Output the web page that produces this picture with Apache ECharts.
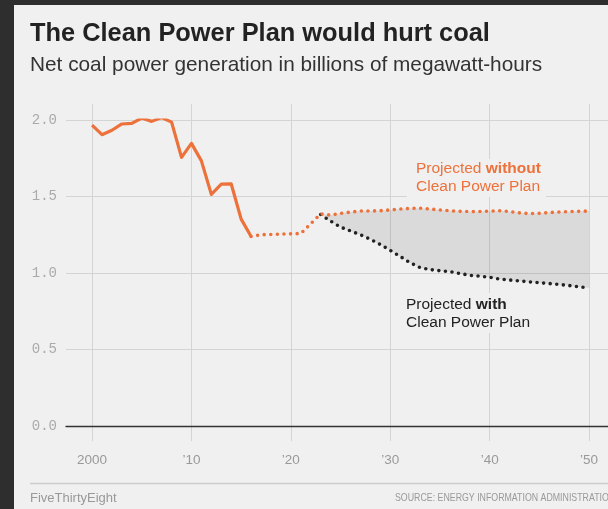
<!DOCTYPE html>
<html>
<head>
<meta charset="utf-8">
<script src="https://cdn.jsdelivr.net/npm/echarts@6/dist/echarts.min.js"></script>
<style>
html,body{margin:0;padding:0;background:#2e2e2e;}
#chart{width:608px;height:509px;}
</style>
</head>
<body>
<div id="chart"></div>
<script>
const histYears = [2000,2001,2002,2003,2004,2005,2006,2007,2008,2009,2010,2011,2012,2013,2014,2015,2016];
const histValues = [1.966,1.904,1.933,1.974,1.978,2.013,1.991,2.016,1.986,1.756,1.847,1.733,1.514,1.581,1.582,1.352,1.239];

const withoutYears = [2016,2017,2018,2019,2020,2021,2022,2023,2024,2025,2026,2027,2028,2029,2030,2031,2032,2033,2034,2035,2036,2037,2038,2039,2040,2041,2042,2043,2044,2045,2046,2047,2048,2049,2050];
const withoutValues = [1.239,1.250,1.252,1.254,1.256,1.258,1.322,1.386,1.378,1.390,1.398,1.405,1.405,1.407,1.412,1.418,1.422,1.423,1.418,1.412,1.407,1.403,1.401,1.402,1.404,1.407,1.402,1.393,1.388,1.390,1.395,1.399,1.401,1.403,1.405];

const withYears = [2023,2024,2025,2026,2027,2028,2029,2030,2031,2032,2033,2034,2035,2036,2037,2038,2039,2040,2041,2042,2043,2044,2045,2046,2047,2048,2049,2050];
const withValues = [1.382,1.339,1.300,1.275,1.250,1.220,1.186,1.148,1.108,1.067,1.035,1.022,1.015,1.009,0.997,0.985,0.979,0.972,0.960,0.954,0.948,0.942,0.936,0.931,0.925,0.918,0.910,0.902];

const xTicks = [2000,2010,2020,2030,2040,2050];
const xTickLabels = ['2000','\u201910','\u201920','\u201930','\u201940','\u201950'];

const ORANGE = '#ed713a';
const DARK = '#222222';
const X_MIN = 1997.38, X_MAX = 2051.9;

const pairs = (xs, ys) => xs.map((x, i) => [x, ys[i]]);
const withoutTail = withYears.map(y => withoutValues[withoutYears.indexOf(y)]);

const chart = echarts.init(document.getElementById('chart'));
chart.setOption({
  backgroundColor: '#2e2e2e',
  animation: false,
  grid: [
    {left: 66, right: 0, top: 120, bottom: 83},
    {left: 66, right: 0, top: 104, bottom: 68}
  ],
  xAxis: [
    {type: 'value', gridIndex: 0, min: X_MIN, max: X_MAX,
     axisLine: {show: true, onZero: false, lineStyle: {color: '#333', width: 1.3}},
     axisTick: {show: false}, axisLabel: {show: false}, splitLine: {show: false}},
    {type: 'value', gridIndex: 1, min: X_MIN, max: X_MAX,
     axisLine: {show: false},
     axisTick: {show: false, customValues: xTicks},
     axisLabel: {show: true, customValues: xTicks, margin: 12,
       formatter: v => xTickLabels[xTicks.indexOf(Math.round(v))] || '',
       color: '#999', fontSize: 13.5, fontFamily: "'Liberation Sans', Arial, sans-serif"},
     splitLine: {show: true, lineStyle: {color: '#d4d4d4', width: 1}}}
  ],
  yAxis: [
    {type: 'value', gridIndex: 0, min: 0, max: 2, interval: 0.5,
     axisLine: {show: false}, axisTick: {show: false},
     axisLabel: {formatter: v => v.toFixed(1), color: '#aaa', fontSize: 14, margin: 9,
       fontFamily: "'Liberation Mono', 'DejaVu Sans Mono', monospace"},
     splitLine: {show: true, lineStyle: {color: '#d4d4d4', width: 1}}},
    {type: 'value', gridIndex: 1, min: 0, max: 1, show: false, splitLine: {show: false}}
  ],
  series: [
    {type: 'custom', name: 'band', xAxisIndex: 0, yAxisIndex: 0, silent: true, z: 1, clip: false,
     data: [[withYears[0], withValues[0]]],
     renderItem: (params, api) => {
       const top = withYears.map((y, i) => api.coord([y, withoutTail[i]]));
       const bottom = withYears.map((y, i) => api.coord([y, withValues[i]])).reverse();
       return {type: 'polygon', shape: {points: top.concat(bottom)}, style: {fill: 'rgba(0,0,0,0.09)'}};
     }},
    {type: 'line', name: 'withCPP', xAxisIndex: 0, yAxisIndex: 0,
     data: pairs(withYears, withValues), symbol: 'none',
     lineStyle: {color: DARK, width: 3.6, type: [0, 6.6], cap: 'round'}, z: 3},
    {type: 'line', name: 'withoutCPP', xAxisIndex: 0, yAxisIndex: 0,
     data: pairs(withoutYears, withoutValues), symbol: 'none',
     lineStyle: {color: ORANGE, width: 3.6, type: [0, 6.6], cap: 'round'}, z: 4},
    {type: 'line', name: 'historical', xAxisIndex: 0, yAxisIndex: 0,
     data: pairs(histYears, histValues), symbol: 'none',
     lineStyle: {color: ORANGE, width: 3.2, join: 'round'}, z: 5}
  ],
  graphic: [
    {type: 'rect', z: -10, silent: true, shape: {x: 14, y: 5, width: 594, height: 504}, style: {fill: '#f0f0f0'}},
    {type: 'text', x: 30, y: 34, z: 10, style: {text: 'The Clean Power Plan would hurt coal', fill: '#222',
      font: "bold 25.4px 'Liberation Sans', Arial, sans-serif", verticalAlign: 'middle'}},
    {type: 'text', x: 30, y: 65, z: 10, style: {text: 'Net coal power generation in billions of megawatt-hours', fill: '#333',
      font: "20.8px 'Liberation Sans', Arial, sans-serif", verticalAlign: 'middle'}},
    {type: 'rect', z: 1, silent: true, shape: {x: 407, y: 159, width: 139, height: 38}, style: {fill: '#f0f0f0'}},
    {type: 'text', x: 416, y: 178, z: 10, style: {
      text: '{a|Projected }{b|without}\n{a|Clean Power Plan}', verticalAlign: 'middle',
      rich: {a: {fill: ORANGE, fontSize: 15.5, lineHeight: 18, fontFamily: "'Liberation Sans', Arial, sans-serif"},
             b: {fill: ORANGE, fontSize: 15.5, lineHeight: 18, fontWeight: 'bold', fontFamily: "'Liberation Sans', Arial, sans-serif"}}}},
    {type: 'rect', z: 1, silent: true, shape: {x: 397, y: 293, width: 134, height: 40}, style: {fill: '#f0f0f0'}},
    {type: 'text', x: 406, y: 313.5, z: 10, style: {
      text: '{a|Projected }{b|with}\n{a|Clean Power Plan}', verticalAlign: 'middle',
      rich: {a: {fill: DARK, fontSize: 15.5, lineHeight: 18, fontFamily: "'Liberation Sans', Arial, sans-serif"},
             b: {fill: DARK, fontSize: 15.5, lineHeight: 18, fontWeight: 'bold', fontFamily: "'Liberation Sans', Arial, sans-serif"}}}},
    {type: 'line', z: 10, silent: true, shape: {x1: 30, y1: 483.5, x2: 608, y2: 483.5}, style: {stroke: '#cccccc', lineWidth: 1.5}},
    {type: 'text', x: 30, y: 498, z: 10, style: {text: 'FiveThirtyEight', fill: '#999',
      font: "13px 'Liberation Sans', Arial, sans-serif", verticalAlign: 'middle'}},
    {type: 'text', x: 395, y: 498, z: 10, scaleX: 0.8, style: {text: 'SOURCE: ENERGY INFORMATION ADMINISTRATION', fill: '#999',
      font: "11px 'Liberation Sans', Arial, sans-serif", verticalAlign: 'middle'}}
  ]
});
</script>
</body>
</html>
